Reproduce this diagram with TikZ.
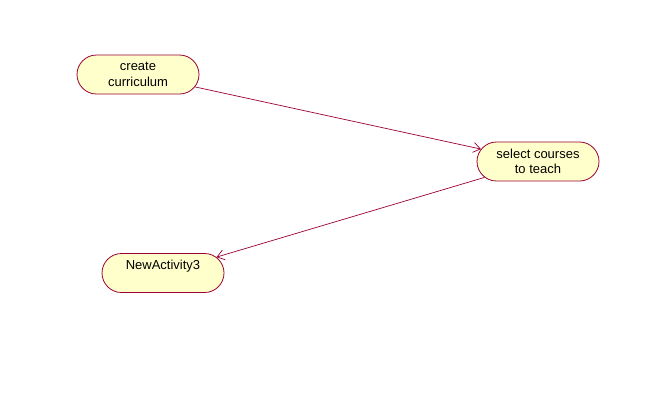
\documentclass[tikz,border=0pt]{standalone}
\usepackage{fontspec}
\setmainfont{Liberation Sans}
\usetikzlibrary{arrows.meta,shapes.misc}
\definecolor{actfill}{HTML}{FFFFCC}
\definecolor{actline}{HTML}{990033}
\tikzset{
  activity/.style={draw=actline, fill=actfill, line width=0.8pt, rounded rectangle,
    minimum width=122pt, minimum height=39pt, inner sep=0pt, align=center,
    font=\fontsize{13}{15.5}\selectfont},
  flow/.style={draw=actline, line width=0.7pt, -{Straight Barb[length=7pt,width=10pt,line width=0.7pt]}}
}
\begin{document}
\begin{tikzpicture}[x=1pt,y=-1pt]
\useasboundingbox (0,0) rectangle (660,416);
\node[activity] (cc) at (138,74.5) {create\\curriculum};
\node[activity] (sc) at (538,161.5) {select courses\\to teach};
\node[activity] (na) at (163,273) {NewActivity3\\\mbox{}};
\draw[flow] (cc) -- (sc);
\draw[flow] (sc) -- (na);
\end{tikzpicture}
\end{document}
